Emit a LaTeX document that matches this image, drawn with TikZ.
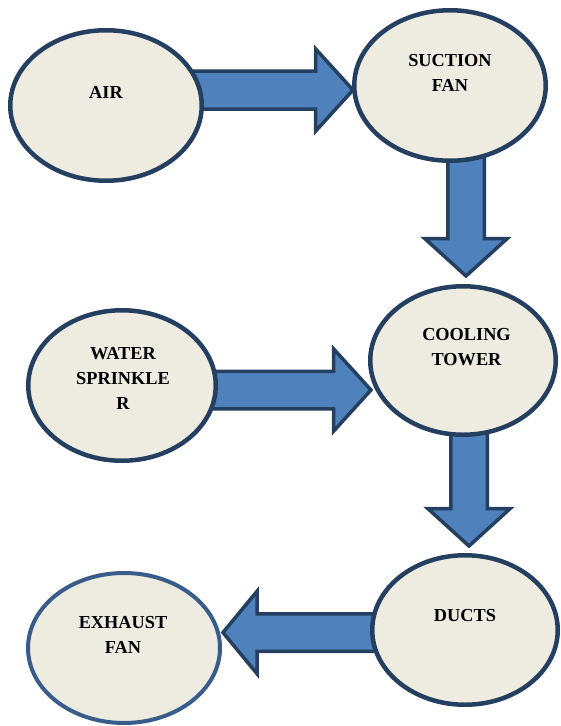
\documentclass[tikz,border=0pt]{standalone}
\usepackage{fontspec}
\setmainfont{Liberation Serif}
\usetikzlibrary{calc,backgrounds,shapes.geometric}
\definecolor{efill}{RGB}{238,236,225}
\definecolor{edraw}{RGB}{36,63,96}
\definecolor{exdraw}{RGB}{56,93,138}
\definecolor{afill}{RGB}{79,129,189}
% #1 start (inside source), #2 tip, #3 angle, #4 shaft half, #5 head half, #6 head length
\newcommand\myBlockArr[6]{%
  \draw[barrow] let \p1=(#1), \p2=(#2), \n1={veclen(\x2-\x1,\y2-\y1)} in
    [shift={(\p2)}, rotate=#3]
    ({-\n1*1pt},#4) -- (-#6,#4) -- (-#6,#5) -- (0pt,0pt) -- (-#6,-#5) -- (-#6,-#4) -- ({-\n1*1pt},-#4) -- cycle;}
\tikzset{
  ell/.style={ellipse, draw=edraw, fill=efill, line width=4.5pt, inner sep=0pt},
  exell/.style={ell, draw=exdraw, line width=4pt},
  lbl/.style={font=\fontsize{18.3}{25}\selectfont\bfseries, align=center, inner sep=0pt, text=black},
  barrow/.style={draw=edraw, fill=afill, line width=3.5pt, line join=miter},
}
\begin{document}
\begin{tikzpicture}[x=1pt,y=-1pt]
\useasboundingbox (0,0) rectangle (561,726);
% ellipses
\node[ell, minimum width=191.5pt, minimum height=150.5pt] (air) at (106,105.5) {};
\node[ell, minimum width=191.5pt, minimum height=150.5pt] (fan) at (450,85.5) {};
\node[ell, minimum width=187.5pt, minimum height=150.5pt] (water) at (122,385.5) {};
\node[ell, minimum width=185.5pt, minimum height=148.5pt] (cool) at (463,360.5) {};
\node[ell, minimum width=185.5pt, minimum height=149.5pt] (ducts) at (465,630) {};
\node[exell, minimum width=192pt, minimum height=150pt] (exhaust) at (124,648) {};
% labels
\node[lbl] (airT) at ($(air.center)+(0,-13.5)$) {AIR};
\node[lbl] (fanT) at ($(fan.center)+(0,-13)$) {SUCTION\\FAN};
\node[lbl] (waterT) at ($(water.center)+(1,-7)$) {WATER\\SPRINKLE\\R};
\node[lbl] (coolT) at ($(cool.center)+(3.5,-13.5)$) {COOLING\\TOWER};
\node[lbl] (ductsT) at ($(ducts.center)+(0,-14)$) {DUCTS};
\node[lbl] (exhaustT) at ($(exhaust.center)+(-1,-13.5)$) {EXHAUST\\FAN};
% tips
\coordinate (t1) at ($(fan.west)+(1,4.5)$);
\coordinate (t2) at ($(cool.north)+(3,-8)$);
\coordinate (t3) at ($(cool.west)+(3,29.5)$);
\coordinate (t4) at ($(ducts.north)+(4,-7)$);
\coordinate (t5) at ($(exhaust.east)+(1,-15.5)$);
\begin{pgfonlayer}{background}
\myBlockArr{air.center}{t1}{0}{19pt}{41.25pt}{37.5pt}
\myBlockArr{fan.center}{t2}{-90}{18.25pt}{41.25pt}{37.5pt}
\myBlockArr{water.center}{t3}{0}{18.75pt}{41.25pt}{37.5pt}
\myBlockArr{cool.center}{t4}{-90}{18.25pt}{41.25pt}{37.5pt}
\myBlockArr{ducts.center}{t5}{180}{18.75pt}{41.25pt}{34pt}
\end{pgfonlayer}
\end{tikzpicture}
\end{document}
